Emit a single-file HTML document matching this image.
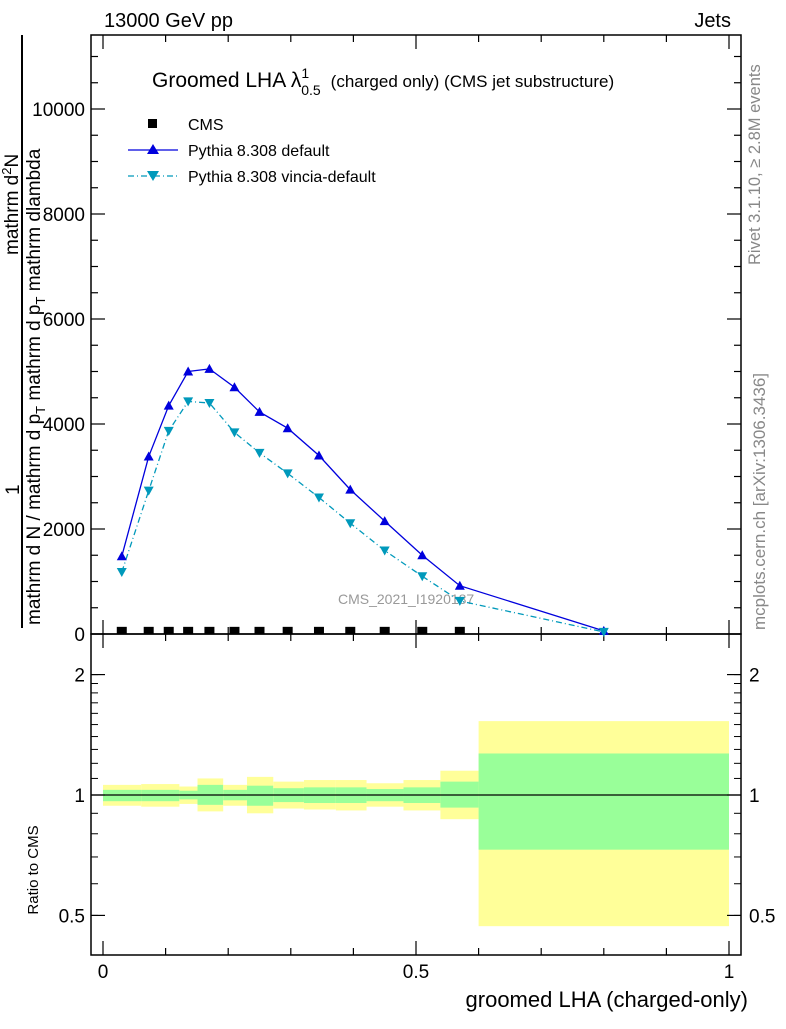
<!DOCTYPE html>
<html><head><meta charset="utf-8"><style>body{margin:0;background:#fff}svg text{font-family:"Liberation Sans",sans-serif}</style></head>
<body>
<svg id="c" width="786" height="1024" xmlns="http://www.w3.org/2000/svg">
<text x="104" y="27" font-size="20">13000 GeV pp</text>
<text x="731" y="27" font-size="20" text-anchor="end">Jets</text>
<text x="152" y="87" font-size="21">Groomed LHA λ<tspan font-size="14" dy="-9">1</tspan><tspan font-size="14" dx="-8" dy="17">0.5</tspan><tspan font-size="17" dy="-8" dx="10">(charged only) (CMS jet substructure)</tspan></text>
<text x="760" y="265" font-size="16.5" fill="#888" transform="rotate(-90 760 265)">Rivet 3.1.10, ≥ 2.8M events</text>
<text x="765" y="630" font-size="17" fill="#888" transform="rotate(-90 765 630)">mcplots.cern.ch [arXiv:1306.3436]</text>
<text x="338" y="604" font-size="14" fill="#999">CMS_2021_I1920187</text>
<g transform="rotate(-90)" font-size="19">
<text x="-625" y="40">mathrm d N / mathrm d p<tspan font-size="13" dy="5">T</tspan><tspan dy="-5"> mathrm d p</tspan><tspan font-size="13" dy="5">T</tspan><tspan dy="-5"> mathrm dlambda</tspan></text>
<text x="-495" y="19">1</text>
<text x="-255" y="18">mathrm d<tspan font-size="13" dy="-7">2</tspan><tspan dy="7">N</tspan></text>
</g>
<line x1="22" y1="628" x2="22" y2="35" stroke="#000" stroke-width="2"/>
<text x="38" y="870" font-size="15" transform="rotate(-90 38 870)" text-anchor="middle">Ratio to CMS</text>
<text x="748" y="1007" font-size="22" text-anchor="end">groomed LHA (charged-only)</text>
<g id="g"></g>
</svg>
<script>
const centers=[0.03,0.073,0.105,0.136,0.17,0.21,0.25,0.295,0.345,0.395,0.45,0.51,0.57,0.80];
const pythia=[1480,3380,4350,5000,5050,4700,4230,3920,3400,2750,2150,1500,920,60];
const vincia=[1180,2730,3870,4430,4400,3840,3450,3060,2600,2110,1590,1100,630,40];
const cmsVals=[60,60,60,60,60,60,60,60,60,60,60,60,60];
const edges=[0,0.061,0.122,0.151,0.192,0.23,0.272,0.321,0.372,0.421,0.48,0.539,0.6,1.0];
const yelUp=[1.06,1.065,1.05,1.1,1.06,1.11,1.08,1.09,1.09,1.07,1.09,1.15,1.53];
const yelDn=[0.94,0.935,0.95,0.91,0.94,0.9,0.925,0.92,0.915,0.935,0.915,0.87,0.47];
const grnUp=[1.03,1.03,1.025,1.06,1.03,1.055,1.04,1.045,1.045,1.035,1.045,1.08,1.27];
const grnDn=[0.965,0.965,0.975,0.945,0.97,0.94,0.96,0.955,0.955,0.965,0.955,0.93,0.73];
const yTicks=[0,2000,4000,6000,8000,10000];
const rTicks=[0.5,1,2];
const xTicks=[0,0.5,1];
const X=v=>103+626*v, Y=v=>634-0.0525*v, R=v=>795-400*Math.log10(v);
const L=91,Rt=741,T=35,MB=634,RB=955;
const g=document.getElementById('g');const NS='http://www.w3.org/2000/svg';
function el(t,a,p){const e=document.createElementNS(NS,t);for(const k in a)e.setAttribute(k,a[k]);(p||g).appendChild(e);return e;}
for(let i=0;i<edges.length-1;i++){
 const y=el('rect',{x:X(edges[i]),y:R(yelUp[i]),width:X(edges[i+1])-X(edges[i]),height:R(yelDn[i])-R(yelUp[i]),fill:'#ffff99'});
 
 
 const gr=el('rect',{x:X(edges[i]),y:R(grnUp[i]),width:X(edges[i+1])-X(edges[i]),height:R(grnDn[i])-R(grnUp[i]),fill:'#99ff99'});
 
 
}
const ref=el('line',{x1:L,x2:Rt,y1:R(1),y2:R(1),stroke:'#000','stroke-width':1.2});


for(const [t,b,n] of [[T,MB,'main-frame'],[MB,RB,'ratio-frame']]){
 const f=el('rect',{x:L,y:t,width:Rt-L,height:b-t,fill:'none',stroke:'#000','stroke-width':1.5});
 
 
}
for(let v=0;v<=11000;v+=500){const maj=v%2000==0;const y=Y(v);if(y<T)continue;
 el('line',{x1:L,x2:L+(maj?14:7),y1:y,y2:y,stroke:'#000','stroke-width':1.2});
 el('line',{x1:Rt,x2:Rt-(maj?14:7),y1:y,y2:y,stroke:'#000','stroke-width':1.2});}
yTicks.forEach(v=>{const t=el('text',{x:L-6,y:Y(v)+7,'font-size':19,'text-anchor':'end'});t.textContent=v;
 
 });
const rmin=[0.5,0.6,0.7,0.8,0.9,1,1.1,1.2,1.3,1.4,1.5,1.6,1.7,1.8,1.9,2];
rmin.forEach(v=>{const y=R(v);el('line',{x1:L,x2:L+7,y1:y,y2:y,stroke:'#000'});el('line',{x1:Rt,x2:Rt-7,y1:y,y2:y,stroke:'#000'});});
rTicks.forEach(v=>{const y=R(v);el('line',{x1:L,x2:L+14,y1:y,y2:y,stroke:'#000','stroke-width':1.2});el('line',{x1:Rt,x2:Rt-14,y1:y,y2:y,stroke:'#000','stroke-width':1.2});
 const t=el('text',{x:L-6,y:y+7,'font-size':19,'text-anchor':'end'});t.textContent=v;
 
 
 const t2=el('text',{x:Rt+8,y:y+7,'font-size':19});t2.textContent=v;
 
 });
for(let k=0;k<=10;k++){const v=k/10,x=X(v),maj=k%5==0,h=maj?14:7;
 [[MB,-1],[MB,1],[RB,-1],[T,1]].forEach(([b,d])=>el('line',{x1:x,x2:x,y1:b,y2:b+d*h,stroke:'#000','stroke-width':1.2}));}
xTicks.forEach(v=>{const t=el('text',{x:X(v),y:978,'font-size':19,'text-anchor':'middle'});t.textContent=v;
 
 });
function line(vals,col,dash,name){const p=el('polyline',{points:vals.map((v,i)=>X(centers[i])+','+Y(v)).join(' '),fill:'none',stroke:col,'stroke-width':1.3,'stroke-dasharray':dash||''});
 
 }
line(pythia,'#0000dd','','pythia-default-line');
line(vincia,'#0099bb','6,3,1,3','pythia-vincia-line');
pythia.forEach((v,i)=>{const x=X(centers[i]),y=Y(v);const m=el('polygon',{points:`${x-5},${y+4} ${x+5},${y+4} ${x},${y-5}`,fill:'#0000dd'});
 
 });
vincia.forEach((v,i)=>{const x=X(centers[i]),y=Y(v);const m=el('polygon',{points:`${x-5},${y-4} ${x+5},${y-4} ${x},${y+5}`,fill:'#0099bb'});
 
 });
cmsVals.forEach((v,i)=>{const x=X(centers[i]);const m=el('rect',{x:x-5,y:Y(v)-4,width:10,height:7,fill:'#000'});
 
 });
const lg=el('g',{});
el('rect',{x:148,y:119,width:9,height:9,fill:'#000'},lg);
el('line',{x1:128,x2:178,y1:150,y2:150,stroke:'#0000dd','stroke-width':1.3},lg);
el('polygon',{points:'147,154 159,154 153,144',fill:'#0000dd'},lg);
el('line',{x1:128,x2:178,y1:176,y2:176,stroke:'#0099bb','stroke-width':1.3,'stroke-dasharray':'6,3,1,3'},lg);
el('polygon',{points:'147,171 159,171 153,181',fill:'#0099bb'},lg);
[['CMS',130],['Pythia 8.308 default',156],['Pythia 8.308 vincia-default',182]].forEach(([s,y])=>{const t=el('text',{x:188,y:y,'font-size':16},lg);t.textContent=s;
 
 });
</script>
</body></html>
